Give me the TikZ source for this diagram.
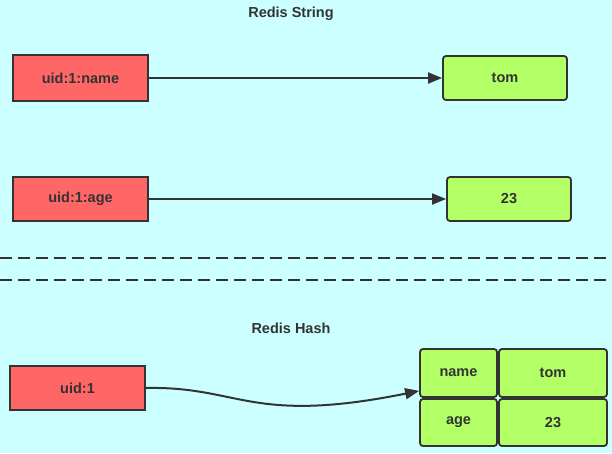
\documentclass[tikz,border=0pt]{standalone}
\usepackage{fontspec}
\setmainfont{Liberation Sans}
\usetikzlibrary{arrows.meta}
\definecolor{bg}{HTML}{CCFFFF}
\definecolor{redb}{HTML}{FF6666}
\definecolor{greenb}{HTML}{B3FF66}
\definecolor{ink}{HTML}{333333}
\begin{document}
\begin{tikzpicture}[x=1pt,y=-1pt,
  lbl/.style={font=\bfseries\fontsize{14.5}{16}\selectfont, text=ink},
  keybox/.style={draw=ink, line width=1.8pt, fill=redb, lbl},
  valbox/.style={draw=ink, line width=1.8pt, fill=greenb, rounded corners=3pt, lbl},
  conn/.style={draw=ink, line width=2pt, -{Triangle[length=14pt,width=11pt]}}]
\fill[bg] (0,0) rectangle (612,453);
\useasboundingbox (0,0) rectangle (612,453);
\node[lbl] (t1) at (291,14) {Redis String};
\node[lbl] (t2) at (291,328) {Redis Hash};
\node[keybox, minimum width=135pt, minimum height=46pt] (k1) at (80.5,78) {uid:1:name};
\node[valbox, minimum width=124pt, minimum height=44pt] (v1) at (505,78) {tom};
\node[keybox, minimum width=135pt, minimum height=44pt] (k2) at (80.5,199) {uid:1:age};
\node[valbox, minimum width=124pt, minimum height=44pt] (v2) at (509,199) {23};
\node[keybox, minimum width=135pt, minimum height=44pt] (k3) at (77.5,388) {uid:1};
\node[valbox, minimum width=77pt, minimum height=48pt] (n) at (458.5,373) {name};
\node[valbox, minimum width=108pt, minimum height=48pt] (tm) at (553,373) {tom};
\node[valbox, minimum width=77pt, minimum height=47pt] (a) at (458.5,422.5) {age};
\node[valbox, minimum width=108pt, minimum height=47pt] (n23) at (553,422.5) {23};
\draw[conn] (k1) -- (v1);
\draw[conn] (k2) -- (v2);
\draw[conn] (k3.east) .. controls (240,386) and (250,425) .. ([yshift=7pt]n.south west);
\coordinate (l1a) at (0,258); \coordinate (l1b) at (612,258);
\coordinate (l2a) at (0,280); \coordinate (l2b) at (612,280);
\draw[ink, line width=2pt, dash pattern=on 12pt off 6pt] (l1a) -- (l1b);
\draw[ink, line width=2pt, dash pattern=on 12pt off 6pt] (l2a) -- (l2b);
\end{tikzpicture}
\end{document}
